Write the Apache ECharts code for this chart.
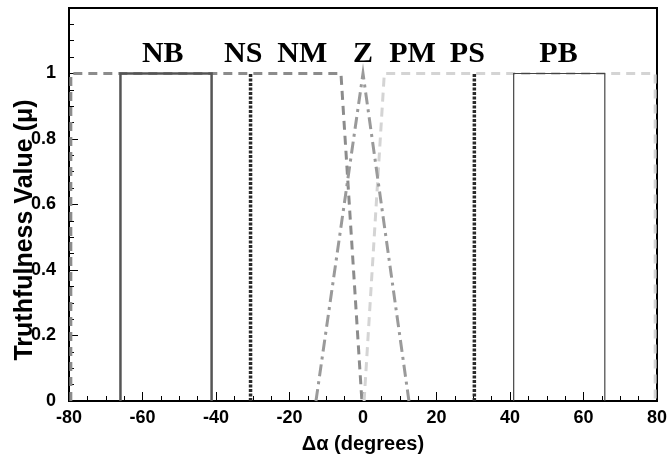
<!DOCTYPE html>
<html><head><meta charset="utf-8">
<script src="https://cdn.jsdelivr.net/npm/echarts@6/dist/echarts.min.js"></script>
<style>html,body{margin:0;padding:0;background:#fff}#c{width:668px;height:466px}</style>
</head><body><div id="c"></div>
<script>
// membership functions (x in degrees, y = truthfulness)
const nbX = [-66, -66, -41.2, -41.2];  const nbY = [0, 1, 1, 0];
const nsX = [-30.6, -30.6];            const nsY = [0, 1];
const nmX = [-79.5, -79.5, -6, -0.3];  const nmY = [0, 1, 1, 0];
const zX  = [-12.8, 0, 12.5];          const zY  = [0, 1, 0];
const pmX = [0.3, 5.8, 79.5, 79.5];    const pmY = [0, 1, 1, 0];
const psX = [30.3, 30.3];              const psY = [0, 1];
const pbX = [41, 41, 65.8, 65.8];      const pbY = [0, 1, 1, 0];
const termNames = ['NB', 'NS', 'NM', 'Z', 'PM', 'PS', 'PB'];
const termLabelX = [-54.5, -32.6, -16.5, 0, 13.5, 28.4, 53.2];
const termLabelY = [1.06, 1.06, 1.06, 1.06, 1.06, 1.06, 1.06];
const xTicks = [-80, -60, -40, -20, 0, 20, 40, 60, 80];
const yTicks = [0, 0.2, 0.4, 0.6, 0.8, 1];

const pts = (xs, ys) => xs.map((x, i) => [x, ys[i]]);
const chart = echarts.init(document.getElementById('c'));
const lineS = (xs, ys, color, width, type, z) => ({
  type: 'line', data: pts(xs, ys), symbol: 'none', silent: true, z: z,
  lineStyle: { color: color, width: width, type: type, cap: 'butt', join: 'miter' }
});
chart.setOption({
  animation: false,
  grid: { left: 69, right: 11, top: 8, bottom: 65, outerBoundsMode: 'none', containLabel: false,
    show: true, borderColor: '#000', borderWidth: 2, backgroundColor: 'transparent' },
  xAxis: {
    type: 'value', min: -80, max: 80, interval: 20,
    name: 'Δα (degrees)', nameLocation: 'middle', nameGap: 33,
    nameTextStyle: { fontFamily: 'Liberation Sans', fontWeight: 'bold', fontSize: 20, color: '#000' },
    axisLine: { show: true, onZero: false, lineStyle: { color: '#000', width: 2 } },
    axisTick: { show: true, inside: true, length: 9, lineStyle: { color: '#000', width: 1 } },
    minorTick: { show: true, splitNumber: 4, length: 5, lineStyle: { color: '#000', width: 1 } },
    splitLine: { show: false },
    axisLabel: { fontFamily: 'Liberation Sans', fontWeight: 'bold', fontSize: 18, color: '#000', margin: 8,
      formatter: v => xTicks.includes(v) ? String(v) : '' }
  },
  yAxis: {
    type: 'value', min: 0, max: 1.2, interval: 0.2,
    axisLine: { show: true, onZero: false, lineStyle: { color: '#000', width: 2 } },
    axisTick: { show: true, inside: true, length: 9, lineStyle: { color: '#000', width: 1 } },
    minorTick: { show: true, splitNumber: 4, length: 5, lineStyle: { color: '#000', width: 1 } },
    splitLine: { show: false },
    axisLabel: { fontFamily: 'Liberation Sans', fontWeight: 'bold', fontSize: 18, color: '#000', margin: 13,
      formatter: v => { const t = yTicks.find(k => Math.abs(k - v) < 1e-9); return t === undefined ? '' : String(t); } }
  },
  graphic: [{
    type: 'text', x: 25, y: 230, rotation: Math.PI / 2, z: 10,
    style: { text: 'Truthfulness Value (μ)', fontFamily: 'Liberation Sans', fontWeight: 'bold', fontSize: 25,
      fill: '#000', align: 'center', verticalAlign: 'middle' }
  }],
  series: [
    lineS(nmX, nmY, '#8c8c8c', 3, [9, 6], 2),
    lineS(pmX, pmY, '#d4d4d4', 3, [9, 6], 2),
    lineS(zX, zY, '#9a9a9a', 3, [12, 5, 3, 5], 3),
    lineS(nbX, nbY, '#555555', 2.5, 'solid', 4),
    lineS(pbX, pbY, '#444444', 1.2, 'solid', 4),
    lineS(nsX, nsY, '#2a2a2a', 3.5, [3, 1.5], 5),
    lineS(psX, psY, '#2a2a2a', 3.5, [3, 1.5], 5),
    {
      type: 'scatter', symbolSize: 0, silent: true, z: 6,
      itemStyle: { color: '#000' },
      data: termNames.map((n, i) => ({ name: n, value: [termLabelX[i], termLabelY[i]] })),
      label: { show: true, position: 'inside', formatter: p => p.name,
        fontFamily: 'Liberation Serif', fontWeight: 'bold', fontSize: 30, color: '#000',
        textBorderWidth: 0, textBorderColor: 'transparent', opacity: 1 }
    }
  ]
});
</script></body></html>
